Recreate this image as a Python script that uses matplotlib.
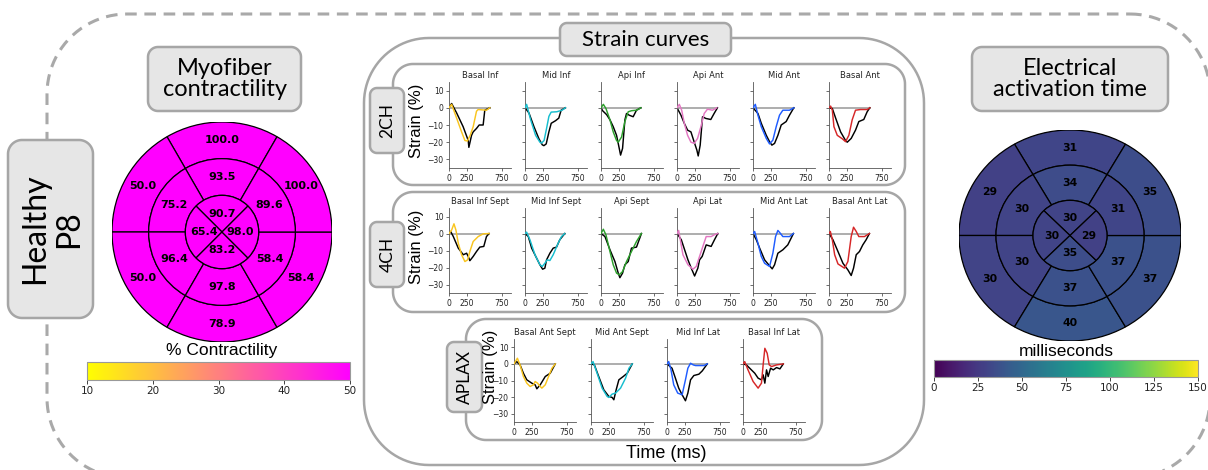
import matplotlib
matplotlib.use("Agg")
import matplotlib.pyplot as plt
import matplotlib as mpl
import numpy as np
from matplotlib.patches import Wedge, Polygon

# ---------------- data ----------------
# Bullseye values (AHA order per ring: ant, ant-sept, inf-sept, inf, inf-lat, ant-lat ; apex: ant, sept, inf, lat)
contractility_basal = [100.0, 50.0, 50.0, 78.9, 58.4, 100.0]
contractility_mid = [93.5, 75.2, 96.4, 97.8, 58.4, 89.6]
contractility_apex = [90.7, 65.4, 83.2, 98.0]
contractility_ticks = [10, 20, 30, 40, 50]

activation_basal = [31, 29, 30, 40, 37, 35]
activation_mid = [34, 30, 30, 37, 37, 31]
activation_apex = [30, 30, 35, 29]
activation_ticks = [0, 25, 50, 75, 100, 125, 150]

# Strain curves: (time ms, strain %) ; sim = coloured model curve, meas = black curve
sim_basal_inf = [(0,0),(37,2),(108,-6),(178,-14),(225,-19),(260,-19.3),(300,-16),(342,-11),(389,-2),(412,-1),(530,-1.4),(577,0)]
meas_basal_inf = [(0,0),(37,2.5),(108,-3),(200,-11),(272,-19),(281,-23),(319,-16),(342,-14),(389,-12),(427,-10),(483,-10),(506,-1.4),(577,0)]
sim_mid_inf = [(0,0),(23,2),(80,-7),(150,-16),(211,-20),(234,-20.5),(270,-19),(305,-12),(338,-5),(370,-2.5),(450,-2.3),(525,-1.4),(572,0)]
meas_mid_inf = [(0,0),(56,-3),(127,-11),(197,-18),(244,-21.5),(267,-22),(300,-21),(338,-14),(371,-9),(432,-7.5),(478,-6),(511,-1.4),(572,0)]
sim_api_inf = [(0,0),(33,2),(70,-0.4),(127,-7),(173,-14),(220,-19),(244,-20),(291,-17),(338,-8),(385,-2.3),(431,-1.7),(502,-1.4),(549,-0.4),(563,0)]
meas_api_inf = [(0,0),(23,-1.7),(80,-4),(127,-7),(173,-11),(220,-16),(258,-23.6),(277,-27.5),(305,-23.6),(338,-7),(361,-3.3),(399,-4.3),(455,-5.2),(502,-1.4),(563,0)]
sim_api_ant = [(0,0),(33,2),(66,-1.4),(103,-9),(150,-16),(197,-20),(244,-20.7),(291,-17.8),(338,-11),(385,-3.3),(431,-0.8),(502,-1.4),(563,0)]
meas_api_ant = [(0,0),(56,-4.3),(103,-9),(150,-13),(197,-14),(244,-20),(281,-24.6),(300,-28),(328,-21.7),(361,-5.2),(408,-6.2),(478,-6.8),(525,-3.3),(572,0)]
sim_mid_ant = [(0,0),(33,2),(70,-4.3),(117,-11),(188,-17.8),(234,-21),(281,-18.8),(328,-11),(375,-4.3),(422,-1.4),(516,-1.4),(577,0)]
meas_mid_ant = [(0,0),(70,-3.3),(117,-9),(188,-16),(234,-19.7),(267,-21.7),(305,-20.7),(352,-16),(399,-10),(469,-8),(516,-4.3),(577,0)]
sim_basal_ant = [(0,0),(23,1),(47,-1.4),(70,-11),(117,-16),(188,-18),(234,-19.7),(281,-16),(328,-7),(375,-1.4),(446,-1),(540,-1),(577,0)]
meas_basal_ant = [(0,0),(47,-0.4),(94,-6),(164,-14),(234,-19),(258,-20),(314,-17.8),(375,-13),(422,-8),(492,-6.8),(540,-2.3),(577,0)]

sim_basal_inf_sept = [(0,0),(37,2),(70,5.7),(98,2),(131,-5.7),(178,-12.5),(225,-16.5),(263,-15.5),(295,-10.6),(342,-4.7),(413,-1.8),(483,-0.2),(567,0)]
meas_basal_inf_sept = [(0,0),(23,1.2),(61,-1.8),(131,-8.6),(202,-12.5),(249,-11.6),(272,-13.5),(295,-16),(342,-13.5),(389,-10.6),(436,-8),(492,-7.6),(530,-1.8),(567,0)]
sim_mid_inf_sept = [(0,0),(23,0.8),(70,-3.7),(141,-12.5),(211,-18.4),(244,-19.4),(281,-17.5),(314,-15.5),(352,-15.9),(399,-12.5),(469,-5.7),(516,-1.8),(563,0)]
meas_mid_inf_sept = [(0,0),(47,-1.8),(94,-8.6),(164,-14.5),(211,-18.4),(249,-21),(281,-20.4),(305,-15.5),(352,-11.6),(399,-8.6),(446,-8),(492,-3.7),(563,0)]
sim_api_sept = [(0,0),(33,2.5),(70,-0.8),(127,-10.6),(173,-18.4),(220,-23.3),(258,-24.3),(305,-22.4),(361,-16.5),(431,-10.6),(502,-4.7),(572,0)]
meas_api_sept = [(0,0),(56,-1.8),(127,-9.6),(197,-16.5),(244,-23.3),(267,-26),(305,-23.3),(338,-18.4),(385,-16.5),(431,-8.6),(502,-8),(572,0)]
sim_api_lat = [(0,0),(23,1.8),(47,-3.7),(84,-12.5),(155,-18.4),(225,-21),(272,-19.4),(319,-13.5),(366,-7.6),(413,-1.8),(483,-1.8),(544,-0.4),(577,0)]
meas_api_lat = [(0,0),(61,-3.7),(108,-9.6),(155,-15.5),(202,-20.4),(249,-25),(295,-20.4),(319,-15.5),(356,-13.5),(413,-6.7),(483,-7.6),(530,-3.7),(577,0)]
sim_mid_ant_lat = [(0,0),(23,1.2),(70,-5.7),(117,-13.5),(164,-17.5),(234,-19.4),(281,-11.6),(319,-1.8),(352,1.8),(385,0.2),(422,-1.8),(516,-1.8),(572,0)]
meas_mid_ant_lat = [(0,0),(47,-3.7),(94,-8.6),(164,-15.5),(234,-19),(272,-20.8),(305,-18.4),(352,-11.6),(422,-9.6),(492,-6.7),(572,0)]
sim_basal_ant_lat = [(0,0),(19,1.2),(47,-3.7),(80,-12.5),(127,-17.9),(220,-20.4),(267,-16.5),(314,-1.8),(347,3.7),(385,1.2),(422,-1.8),(502,-1.8),(572,0)]
meas_basal_ant_lat = [(0,0),(56,-3.7),(127,-10.6),(197,-17.5),(267,-21.4),(314,-24.7),(347,-20.4),(385,-12.5),(431,-10.6),(478,-6.7),(525,-3.7),(572,0)]

sim_basal_ant_sept = [(0,0),(48,3.4),(86,-0.6),(133,-7.6),(181,-11.6),(228,-13.6),(276,-12.6),(299,-10.6),(333,-11.6),(371,-13.6),(394,-14.6),(442,-12.6),(489,-7.6),(537,-2.6),(584,0)]
meas_basal_ant_sept = [(0,0),(38,1.4),(86,-0.6),(133,-5.6),(181,-9.6),(252,-11.6),(299,-12.6),(323,-15),(371,-12.6),(442,-7.6),(513,-5.6),(584,0)]
sim_mid_ant_sept = [(0,0),(29,1.4),(86,-5.6),(157,-14.6),(228,-19.6),(252,-20.2),(299,-18.2),(347,-17.6),(418,-14.6),(489,-8.6),(537,-2.6),(584,0)]
meas_mid_ant_sept = [(0,0),(48,-0.6),(109,-7.6),(181,-15.6),(252,-19.6),(299,-20.2),(323,-21.6),(356,-15.6),(394,-9.6),(456,-7.6),(513,-5.6),(584,0)]
sim_mid_inf_lat = [(0,0),(24,1.4),(57,-3.6),(95,-12.6),(152,-17.6),(214,-18.6),(261,-9.6),(295,-2.6),(333,0.4),(371,-0.6),(404,-1),(522,-1),(570,0)]
meas_mid_inf_lat = [(0,0),(71,-2.6),(119,-8.6),(166,-14.6),(214,-18.6),(261,-22.2),(295,-17.6),(333,-9.6),(380,-7),(451,-6.2),(499,-4.2),(570,0)]
sim_basal_inf_lat = [(0,0),(24,1.4),(71,-3.6),(143,-10.6),(214,-14.6),(261,-11.6),(285,-0.6),(309,9.4),(342,6.4),(371,-0.6),(404,-1.6),(475,-0.6),(570,0)]
meas_basal_inf_lat = [(0,0),(48,-0.6),(95,-2.6),(166,-5.6),(214,-8.6),(261,-9.6),(285,-6.6),(309,-11.6),(333,-3.6),(356,-7.6),(390,-2.6),(428,-3.6),(475,-2.2),(522,-3),(570,0)]

titles_2ch = ['Basal Inf', 'Mid Inf', 'Api Inf', 'Api Ant', 'Mid Ant', 'Basal Ant']
titles_4ch = ['Basal Inf Sept', 'Mid Inf Sept', 'Api Sept', 'Api Lat', 'Mid Ant Lat', 'Basal Ant Lat']
titles_aplax = ['Basal Ant Sept', 'Mid Ant Sept', 'Mid Inf Lat', 'Basal Inf Lat']
strain_yticks = [-30, -20, -10, 0, 10]
strain_xticks = [0, 250, 750]

YEL, CYA, GRN, PNK, BLU, RED = '#f9c51f', '#17becf', '#2ca02c', '#e377c2', '#1f5cff', '#d62728'

rows = [
    (titles_2ch, [sim_basal_inf, sim_mid_inf, sim_api_inf, sim_api_ant, sim_mid_ant, sim_basal_ant],
     [meas_basal_inf, meas_mid_inf, meas_api_inf, meas_api_ant, meas_mid_ant, meas_basal_ant],
     [YEL, CYA, GRN, PNK, BLU, RED], [449, 525, 601, 677, 753, 829], 82, 168),
    (titles_4ch, [sim_basal_inf_sept, sim_mid_inf_sept, sim_api_sept, sim_api_lat, sim_mid_ant_lat, sim_basal_ant_lat],
     [meas_basal_inf_sept, meas_mid_inf_sept, meas_api_sept, meas_api_lat, meas_mid_ant_lat, meas_basal_ant_lat],
     [YEL, CYA, GRN, PNK, BLU, RED], [449, 525, 601, 677, 753, 829], 208, 293),
    (titles_aplax, [sim_basal_ant_sept, sim_mid_ant_sept, sim_mid_inf_lat, sim_basal_inf_lat],
     [meas_basal_ant_sept, meas_mid_ant_sept, meas_mid_inf_lat, meas_basal_inf_lat],
     [YEL, CYA, BLU, RED], [514, 591, 667, 743], 339, 422),
]

# ---------------- figure ----------------
W, H = 1208, 470
fig = plt.figure(figsize=(W / 100, H / 100), dpi=100)
fig.patch.set_facecolor('white')


def pax(x0, y0, x1, y1, **kw):
    return fig.add_axes([x0 / W, 1 - y1 / H, (x1 - x0) / W, (y1 - y0) / H], **kw)


bg = fig.add_axes([0, 0, 1, 1], zorder=-5)
bg.set_xlim(0, W)
bg.set_ylim(H, 0)
bg.axis('off')

EDGE = '#a6a6a6'
FILL = '#e6e6e6'


def rbox(x0, y0, x1, y1, r, fc='white', ec=EDGE, lw=1.8, ls='-', z=1):
    pts = []
    for (cx, cy, a0) in [(x1 - r, y0 + r, -90), (x1 - r, y1 - r, 0),
                         (x0 + r, y1 - r, 90), (x0 + r, y0 + r, 180)]:
        a = np.deg2rad(np.linspace(a0, a0 + 90, 24))
        pts += list(zip(cx + r * np.cos(a), cy + r * np.sin(a)))
    p = Polygon(pts, closed=True, fc=fc, ec=ec, lw=lw, ls=ls, zorder=z, clip_on=False,
                joinstyle='round')
    bg.add_patch(p)


def T(x, y, s, **kw):
    kw.setdefault('ha', 'center')
    kw.setdefault('va', 'center')
    bg.text(x, y, s, **kw)


# outer dashed frame
rbox(47, 14, 1210, 478, 80, fc='none', ec='#a9a9a9', lw=2.2, ls=(0, (3.8, 2.5)), z=0)

# strain frames
rbox(364, 38, 924, 465, 65, fc='white', z=1)
rbox(393, 64, 905, 185, 20, fc='white', z=2)
rbox(393, 192, 905, 312, 20, fc='white', z=2)
rbox(466, 319, 822, 440, 20, fc='white', z=2)

# label boxes
rbox(8, 140, 93, 318, 14, fc=FILL, z=3)
rbox(148, 47, 301, 111, 10, fc=FILL, z=3)
rbox(972, 47, 1168, 111, 10, fc=FILL, z=3)
rbox(560, 23, 731, 56, 7, fc=FILL, z=3)
rbox(370, 88, 404, 153, 7, fc=FILL, z=3)
rbox(370, 222, 404, 287, 7, fc=FILL, z=3)
rbox(447, 342, 482, 412, 7, fc=FILL, z=3)

BOXFONT = 'Lato'
ARIAL = 'Liberation Sans'
T(52, 229, 'Healthy\nP8', rotation=90, fontsize=23, family=BOXFONT, linespacing=1.15, zorder=5)
T(224.5, 79, 'Myofiber\ncontractility', fontsize=17, family=BOXFONT, linespacing=1.05, zorder=5)
T(1070, 79, 'Electrical\nactivation time', fontsize=17, family=BOXFONT, linespacing=1.05, zorder=5)
T(645.5, 40, 'Strain curves', fontsize=16, family=BOXFONT, zorder=5)
T(387.5, 120.5, '2CH', rotation=90, fontsize=12.5, family=BOXFONT, zorder=5)
T(387.5, 254.5, '4CH', rotation=90, fontsize=12.5, family=BOXFONT, zorder=5)
T(464.5, 377, 'APLAX', rotation=90, fontsize=12.5, family=BOXFONT, zorder=5)
T(417, 121, 'Strain (%)', rotation=90, fontsize=12, family=ARIAL, zorder=5)
T(417, 247, 'Strain (%)', rotation=90, fontsize=12, family=ARIAL, zorder=5)
T(666, 453, 'Time (ms)', fontsize=13, family=ARIAL, zorder=5)
T(222, 351, '% Contractility', fontsize=12.5, family=ARIAL, zorder=5)
T(1066, 352, 'milliseconds', fontsize=12.5, family=ARIAL, zorder=5)


# ---------------- bullseyes ----------------
def bullseye(box, basal, mid, apex, cmap, norm, fmt, fs):
    ax = pax(*box)
    ax.set_xlim(-1, 1)
    ax.set_ylim(-1, 1)
    ax.axis('off')
    ring_angles6 = [(60, 120), (120, 180), (180, 240), (240, 300), (300, 360), (0, 60)]
    ring_angles4 = [(45, 135), (135, 225), (225, 315), (315, 405)]
    for vals, (rin, rout), angs in [(basal, (2 / 3, 1.0), ring_angles6),
                                    (mid, (1 / 3, 2 / 3), ring_angles6),
                                    (apex, (0.0, 1 / 3), ring_angles4)]:
        for v, (a1, a2) in zip(vals, angs):
            w = Wedge((0, 0), rout, a1, a2, width=rout - rin if rin > 0 else None,
                      fc=cmap(norm(v)), ec='black', lw=0.9)
            ax.add_patch(w)
            am = np.deg2rad((a1 + a2) / 2)
            rm = (rin + rout) / 2
            ax.text(rm * np.cos(am), rm * np.sin(am), fmt.format(v), ha='center', va='center',
                    fontsize=fs, fontweight='bold', family='DejaVu Sans')
    return ax


cm1 = plt.get_cmap('spring_r')
n1 = mpl.colors.Normalize(10, 50)
bullseye((112, 122, 332, 342), contractility_basal, contractility_mid, contractility_apex,
         cm1, n1, '{:.1f}', 8)
cm2 = plt.get_cmap('viridis')
n2 = mpl.colors.Normalize(0, 150)
bullseye((959, 130, 1181, 341), activation_basal, activation_mid, activation_apex,
         cm2, n2, '{:d}', 7.8)

for (cbox, cm, nrm, ticks) in [((87, 362, 350, 380), cm1, n1, contractility_ticks),
                                ((934, 360, 1198, 377), cm2, n2, activation_ticks)]:
    cax = pax(*cbox)
    sm = mpl.cm.ScalarMappable(norm=nrm, cmap=cm)
    cb = fig.colorbar(sm, cax=cax, orientation='horizontal', ticks=ticks)
    cb.outline.set_edgecolor('#999999')
    cb.outline.set_linewidth(0.8)
    cax.tick_params(labelsize=7.5, length=3, width=0.6, pad=1.5, colors='#222222')

# ---------------- strain panels ----------------
XMAX = 877
for titles, sims, meass, cols, lefts, top, bot in rows:
    for i, (tt, sim, meas, c, left) in enumerate(zip(titles, sims, meass, cols, lefts)):
        ax = pax(left, top, left + 62, bot)
        ax.patch.set_alpha(0)
        st, sv = zip(*sim)
        mt, mv = zip(*meas)
        ax.plot([0, st[-1]], [0, 0], color='#a0a0a0', lw=1.2, zorder=1)
        ax.plot(mt, mv, color='black', lw=1.05, zorder=2)
        ax.plot(st, sv, color=c, lw=1.05, zorder=3)
        ax.set_xlim(0, XMAX)
        ax.set_ylim(-35, 15)
        ax.set_xticks(strain_xticks)
        ax.set_yticks(strain_yticks)
        for s in ['top', 'right']:
            ax.spines[s].set_visible(False)
        for s in ['left', 'bottom']:
            ax.spines[s].set_color('#555555')
            ax.spines[s].set_linewidth(0.6)
        ax.tick_params(labelsize=5.5, length=2.5, width=0.6, pad=1.5, colors='#555555',
                       labelcolor='#222222')
        if i > 0:
            ax.set_yticklabels([])
        ax.set_title(tt, fontsize=6, pad=3, family='DejaVu Sans', color='#222222')

T(490, 367, 'Strain (%)', rotation=90, fontsize=12, family=ARIAL, zorder=5)

fig.savefig('out.png', dpi=100)
